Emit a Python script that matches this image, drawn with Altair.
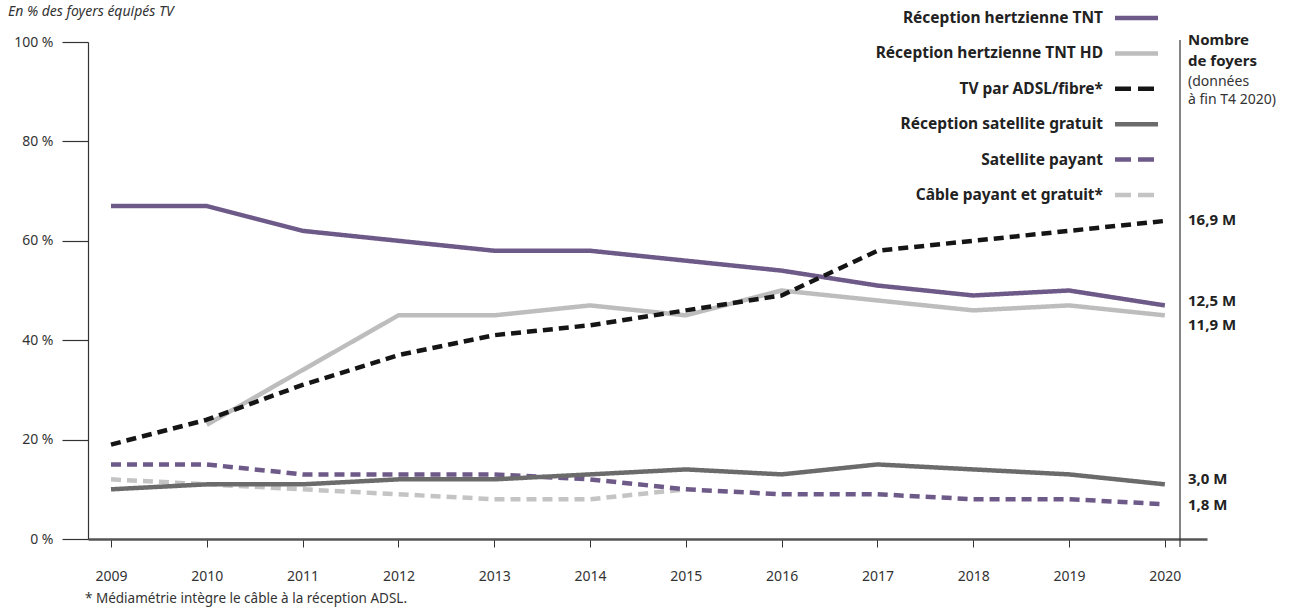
import altair as alt
import pandas as pd

FONT = "Noto Sans, sans-serif"

years = list(range(2009, 2021))
names = [
    "Réception hertzienne TNT",
    "Réception hertzienne TNT HD",
    "TV par ADSL/fibre*",
    "Réception satellite gratuit",
    "Satellite payant",
    "Câble payant et gratuit*",
]
tnt = [67, 67, 62, 60, 58, 58, 56, 54, 51, 49, 50, 47]
tnt_hd = [None, 23, 34, 45, 45, 47, 45, 50, 48, 46, 47, 45]
adsl = [19, 24, 31, 37, 41, 43, 46, 49, 58, 60, 62, 64]
sat_free = [10, 11, 11, 12, 12, 13, 14, 13, 15, 14, 13, 11]
sat_pay = [15, 15, 13, 13, 13, 12, 10, 9, 9, 8, 8, 7]
cable = [12, 11, 10, 9, 8, 8, 10, None, None, None, None, None]
values = [tnt, tnt_hd, adsl, sat_free, sat_pay, cable]

end_labels = ["12,5 M", "11,9 M", "16,9 M", "3,0 M", "1,8 M"]
end_series = [0, 1, 2, 3, 4]
y_ticks = [0, 20, 40, 60, 80, 100]

# styles
colors = ["#6e5a88", "#bdbdbd", "#151515", "#6b6b6b", "#6e5a88", "#c4c4c4"]
dashes = [[1, 0], [1, 0], [10, 6], [1, 0], [10, 6], [10, 6]]
legend_dashes = [[1, 0], [1, 0], [16, 7], [1, 0], [16, 7], [16, 7]]
draw_order = [5, 4, 3, 1, 0, 2]
end_dy = [-4, 10, -1, -5, 1]

rows = []
for i, (n, vals) in enumerate(zip(names, values)):
    for y, v in zip(years, vals):
        if v is not None:
            rows.append({"series": n, "idx": i, "year": y, "value": v})
df = pd.DataFrame(rows)

xs = alt.Scale(domain=[2008.76, 2020.44], nice=False, zero=False)
ys = alt.Scale(domain=[0, 100], nice=False, zero=True)

x_axis = alt.Axis(
    values=years, format="d", title=None, grid=False,
    domainColor="#555", domainWidth=2.5, tickColor="#333",
    tickSize=8, tickWidth=1, labelPadding=29, labelFont=FONT,
    labelFontSize=14, labelColor="#333", labelBaseline="middle")
y_axis = alt.Axis(
    values=y_ticks, labelExpr="datum.value + ' %'", title=None,
    grid=False, domainColor="#333", domainWidth=1.2,
    tickColor="#333", tickSize=26, tickWidth=1.2, labelPadding=9,
    labelFont=FONT, labelFontSize=14, labelColor="#333")

layers = []
first = True
for i in draw_order:
    sub = df[df["idx"] == i]
    yenc = alt.Y("value:Q", scale=ys, axis=y_axis if first else None)
    first = False
    layers.append(
        alt.Chart(sub).mark_line(color=colors[i], strokeDash=dashes[i],
                                 strokeWidth=4.5, strokeJoin="round")
        .encode(x=alt.X("year:Q", scale=xs, axis=x_axis), y=yenc)
    )

# end labels
for lab, si, dy in zip(end_labels, end_series, end_dy):
    ldf = pd.DataFrame({"t": [lab], "value": [values[si][-1]]})
    layers.append(
        alt.Chart(ldf).mark_text(align="left", baseline="middle", dy=dy,
                                 font=FONT, fontWeight="bold", fontSize=15,
                                 color="#222")
        .encode(x=alt.value(1100), y=alt.Y("value:Q", scale=ys, axis=None),
                text="t:N")
    )

# custom legend
leg = pd.DataFrame({"name": names, "idx": list(range(len(names)))})
leg_scale = alt.Scale(domain=[0, 5], range=[-24, 153])
layers.append(
    alt.Chart(leg).mark_text(align="right", baseline="middle", font=FONT,
                             fontWeight="bold", fontSize=15.5, color="#222")
    .encode(x=alt.value(1015), y=alt.Y("idx:Q", scale=leg_scale, axis=None),
            text="name:N")
)
layers.append(
    alt.Chart(leg).mark_rule(strokeWidth=4.5)
    .encode(x=alt.value(1027), x2=alt.value(1070),
            y=alt.Y("idx:Q", scale=leg_scale, axis=None),
            color=alt.Color("name:N", scale=alt.Scale(domain=names, range=colors), legend=None),
            strokeDash=alt.StrokeDash("name:N", scale=alt.Scale(domain=names, range=legend_dashes), legend=None))
)

# right separator rule
sep = pd.DataFrame({"a": [0]})
layers.append(
    alt.Chart(sep).mark_rule(color="#333", strokeWidth=1.2)
    .encode(x=alt.value(1092), y=alt.value(-2), y2=alt.value(505))
)


def txt(s, x, y, size=14, weight="normal", style="normal", align="left", color="#333"):
    return alt.Chart(pd.DataFrame({"t": [s]})).mark_text(
        align=align, baseline="middle", font=FONT, fontSize=size,
        fontWeight=weight, fontStyle=style, color=color
    ).encode(x=alt.value(x), y=alt.value(y), text="t:N")


layers += [
    txt("Nombre", 1100, -2, 15, "bold", color="#222"),
    txt("de foyers", 1100, 19, 15, "bold", color="#222"),
    txt("(données", 1100, 40, 14),
    txt("à fin T4 2020)", 1100, 58, 14),
    txt("En % des foyers équipés TV", -80, -30, 14, style="italic"),
    txt("* Médiamétrie intègre le câble à la réception ADSL.", -3, 557, 13.5),
]

chart = alt.layer(*layers).resolve_scale(y="independent").properties(
    width=1119, height=497,
    padding={"left": 88, "top": 42, "right": 92, "bottom": 73},
    autosize=alt.AutoSizeParams(type="none"),
).configure_view(stroke=None)

chart.save("out.html", embed_options={"renderer": "svg", "actions": False})
